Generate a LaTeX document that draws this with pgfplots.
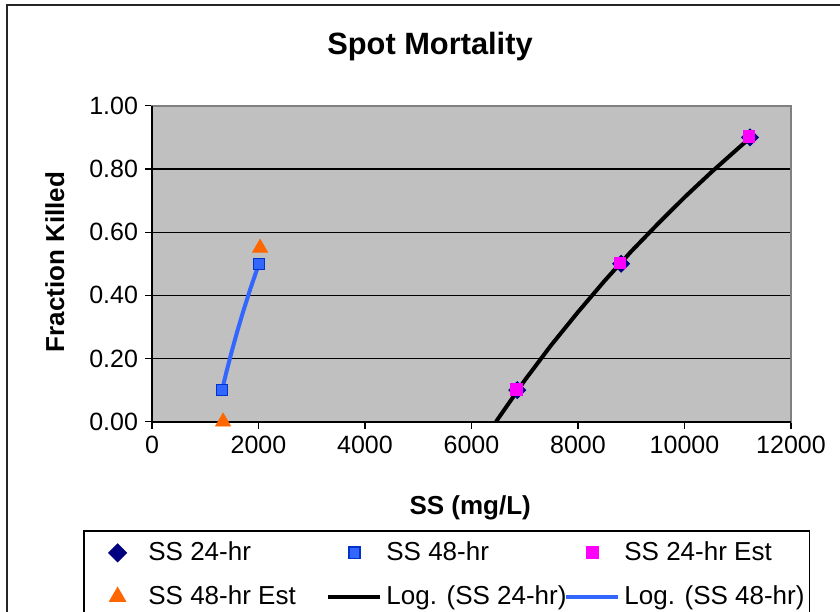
\documentclass[border=0pt]{standalone}
\usepackage{pgfplots}
\pgfplotsset{compat=1.18}
\usepackage{fontspec}
\setmainfont{Liberation Sans}

\definecolor{plotgray}{RGB}{192,192,192}
\definecolor{bordergray}{RGB}{128,128,128}
\definecolor{navy}{RGB}{0,0,128}
\definecolor{sqblue}{RGB}{51,102,255}
\definecolor{sqedge}{RGB}{0,51,204}
\definecolor{estmagenta}{RGB}{255,0,255}
\definecolor{estorange}{RGB}{255,102,0}

\pgfplotsset{
	markleg/.style={legend image code/.code={
		\path (0pt,0pt) (26pt,0pt);
		\draw[##1] plot coordinates {(13pt,0pt)};
	}},
	lineleg/.style={legend image code/.code={
		\draw[##1] (0pt,0pt) -- (26pt,0pt);
	}},
}

\begin{document}
\begin{tikzpicture}
	\begin{axis}[
		at={(0,0)}, anchor=south west,
		scale only axis,
		width=319.5pt,
		height=158pt,
		xmin=0, xmax=12000,
		ymin=0, ymax=1,
		clip=false,
		xtick={0,2000,...,12000},
		ytick={0,0.2,...,1.0},
		scaled x ticks=false,
		xtick pos=bottom, ytick pos=left,
		tick align=outside,
		major tick length=3.5pt,
		tick style={black, line width=0.6pt},
		axis background/.style={fill=plotgray},
		axis line style={bordergray, line width=1pt},
		ymajorgrids=true,
		grid style={black, line width=0.6pt},
		ticklabel style={font=\fontsize{12.5}{14}\selectfont},
		/pgf/number format/assume math mode=true,
		xticklabel style={/pgf/number format/set thousands separator={}},
		yticklabel style={/pgf/number format/.cd, fixed, fixed zerofill, precision=2},
		xlabel={\textbf{SS (mg/L)}},
		ylabel={\textbf{Fraction Killed}},
		label style={font=\fontsize{13}{15}\selectfont},
		xlabel style={at={(axis description cs:0.498,-0.272)}, anchor=center},
		ylabel style={at={(axis description cs:-0.152,0.505)}, anchor=center, rotate=0},
		legend columns=3,
		legend cell align=left,
		legend style={
			at={(axis description cs:-0.108,-0.343)}, anchor=north west,
			draw=black, line width=0.8pt, fill=white,
			font=\fontsize{13}{15}\selectfont,
			row sep=7pt,
			inner sep=3.5pt,
		},
	]
	% measured points
	\addplot[only marks, markleg, mark=square*, mark size=3pt,
		mark options={rotate=45}, color=navy]
	coordinates {
		(6860,0.10) (8810,0.50) (11230,0.90)
	};
	\addlegendentry{\makebox[87pt][l]{SS 24-hr}}
	\addplot[only marks, markleg, mark=square*, mark size=2.8pt, draw=sqedge, fill=sqblue]
	coordinates {
		(1315,0.10) (2009,0.50)
	};
	\addlegendentry{\makebox[87pt][l]{SS 48-hr}}
	\addplot[only marks, markleg, mark=square*, mark size=2.9pt, color=estmagenta]
	coordinates {
		(6840,0.103) (8790,0.503) (11210,0.903)
	};
	\addlegendentry{\makebox[87pt][l]{SS 24-hr Est}}
	\addplot[only marks, markleg, mark=triangle*, mark size=4.3pt, color=estorange]
	coordinates {
		(1335,0.00) (2030,0.55)
	};
	\addlegendentry{\makebox[87pt][l]{SS 48-hr Est}}
	% logarithmic trend lines
	\addplot[lineleg, black, line width=2pt, line join=round]
	coordinates {
		(6460,0.000) (7000,0.131) (7500,0.243) (8000,0.347) (8500,0.446)
		(9000,0.539) (9500,0.626) (10000,0.710) (10500,0.789) (11000,0.864)
		(11230,0.898)
	};
	\addlegendentry{\makebox[87pt][l]{Log. (SS 24-hr)}}
	\addplot[lineleg, sqblue, line width=2pt, line join=round]
	coordinates {
		(1315,0.100) (1400,0.159) (1500,0.224) (1600,0.285) (1700,0.342)
		(1850,0.422) (2009,0.500)
	};
	\addlegendentry{\makebox[87pt][l]{Log. (SS 48-hr)}}
	\draw[black, line width=1pt] (rel axis cs:0,1) -- (rel axis cs:0,0) -- (rel axis cs:1,0);
	\end{axis}
	\node[font=\bfseries\fontsize{15.4}{18}\selectfont] at (139pt,187.4pt) {Spot Mortality};
	\draw[black!85, line width=1.2pt] (-72.5pt,-120pt) -- (-72.5pt,208.4pt) -- (400pt,208.4pt);
	\pgfresetboundingbox
	\useasboundingbox (-76pt,-94.65pt) rectangle (344pt,210.85pt);
\end{tikzpicture}
\end{document}
